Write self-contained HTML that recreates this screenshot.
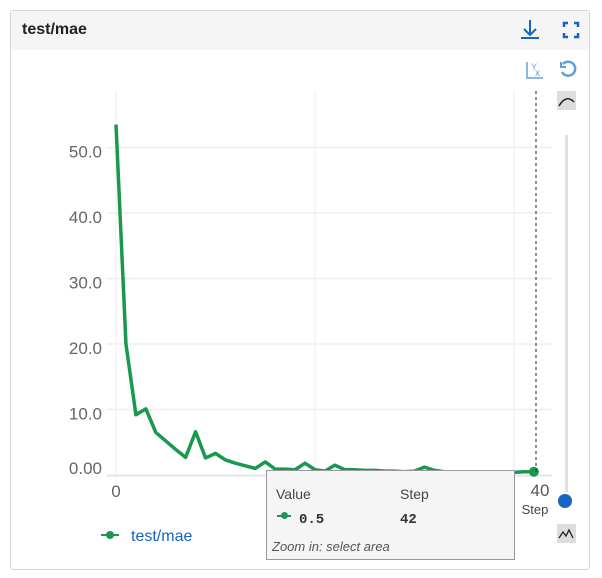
<!DOCTYPE html>
<html><head><meta charset="utf-8"><style>
body{margin:0;width:602px;height:578px;background:#fff;font-family:"Liberation Sans",sans-serif;position:relative;overflow:hidden}
.card{position:absolute;left:10px;top:10px;width:580px;height:560px;border:1px solid #d5d5d5;border-radius:3px;box-sizing:border-box}
.hdr{position:absolute;left:0;top:0;right:0;height:39px;background:#f5f5f5}
.title{position:absolute;left:11px;top:10px;font-weight:bold;font-size:16px;color:#222}
.tip{position:absolute;left:266px;top:470px;width:249px;height:90px;background:#f5f5f5;border:1px solid #999;box-sizing:border-box;font-size:14px;color:#444}
</style></head><body>
<div class="card">
<div class="hdr"><div class="title">test/mae</div></div>
</div>
<svg width="602" height="578" style="position:absolute;left:0;top:0" id="chart">
<g stroke="#1565c0" stroke-width="2" fill="none"><path d="M530 20v15M524 29l6 6 6-6M521 38h18"/></g>
<g stroke="#1565c0" stroke-width="2.5" fill="none"><path d="M564 27v-4h4M574 23h4v4M578 33v4h-4M568 37h-4v-4"/></g>
<g fill="none" stroke="#64a0d8" stroke-width="1.5"><path d="M527 62v16h16"/><text x="531" y="70" font-size="9" fill="#64a0d8" stroke="none">Y</text><text x="535" y="76" font-size="10" fill="#64a0d8" stroke="none">x</text></g>
<g fill="none" stroke="#64a0d8" stroke-width="2.5"><path d="M563 64a7 7 0 1 1 -1 8"/><path d="M561 62v5h5" stroke-width="2"/></g>
<rect x="557" y="91" width="19" height="19" fill="#ddd"/>
<path d="M559 106q7-12 15-4" stroke="#222" stroke-width="1.5" fill="none"/>
<rect x="565" y="135" width="3" height="365" fill="#e0e0e0"/>
<circle cx="565" cy="501" r="8" fill="#1565c0" stroke="#fff" stroke-width="2"/>
<rect x="557" y="524" width="19" height="19" fill="#ddd"/>
<path d="M559 538l4-6 3 4 3-6 4 8" stroke="#222" stroke-width="1.3" fill="none"/>
<g id="grid"></g><g id="plot"></g>
<line x1="536" y1="91" x2="536" y2="472" stroke="#222" stroke-dasharray="3,3"/>
<text x="540" y="496" font-size="17" fill="#555" text-anchor="middle">40</text>
<text x="535" y="514" font-size="13" fill="#444" text-anchor="middle">Step</text>
<g><line x1="101" y1="535" x2="119" y2="535" stroke="#1a9850" stroke-width="2"/><circle cx="110" cy="535" r="4" fill="#1a9850"/><text x="131" y="541" font-size="16" fill="#1565c0">test/mae</text></g>
</svg>
<div class="tip">
<div style="position:absolute;left:9px;top:15px">Value</div>
<div style="position:absolute;left:133px;top:15px">Step</div>
<div style="position:absolute;left:10px;top:44px;width:14px;height:2px;background:#1a9850"></div>
<div style="position:absolute;left:14px;top:41px;width:7px;height:7px;border-radius:50%;background:#1a9850"></div>
<div style="position:absolute;left:32px;top:41px;font-family:'Liberation Mono',monospace;font-weight:bold;color:#333">0.5</div>
<div style="position:absolute;left:133px;top:41px;font-family:'Liberation Mono',monospace;font-weight:bold;color:#333">42</div>
<div style="position:absolute;left:5px;top:68px;font-style:italic;font-size:13px;color:#555">Zoom in: select area</div>
</div>
<script>
const steps=[0,1,2,3,4,5,6,7,8,9,10,11,12,13,14,15,16,17,18,19,20,21,22,23,24,25,26,27,28,29,30,31,32,33,34,35,36,37,38,39,40,41,42];
const values=[53.5,20.0,9.2,10.1,6.5,5.2,3.9,2.7,6.6,2.6,3.3,2.3,1.8,1.4,1.0,2.0,0.9,0.9,0.8,1.8,0.8,0.6,1.5,0.8,0.8,0.7,0.7,0.6,0.6,0.5,0.6,1.2,0.7,0.5,0.5,0.5,0.5,0.4,0.4,0.4,0.4,0.5,0.5];
const yTicks=[0,10,20,30,40,50];
const yTickLabels=["0.00","10.0","20.0","30.0","40.0","50.0"];
const xTicks=[0,20,40];
const xTickLabels=["0"];
const NS="http://www.w3.org/2000/svg";
const xs=s=>116+s*9.95, ys=v=>475-v*6.55;
const grid=document.getElementById('grid'),plot=document.getElementById('plot');
function mk(t,a,p){const e=document.createElementNS(NS,t);for(const k in a)e.setAttribute(k,a[k]);p.appendChild(e);return e;}
yTicks.forEach((t,i)=>{
 const l=mk('line',{x1:107,x2:552,y1:ys(t),y2:ys(t),stroke:'#eee','stroke-width':1.5},grid);
 
 
 const ty=Math.min(ys(t)+10,474);
 const tx=mk('text',{x:102,y:ty,'font-size':17,fill:'#666','text-anchor':'end'},grid);
 tx.textContent=yTickLabels[i];
 
 
});
xTicks.forEach(t=>{
 const l=mk('line',{x1:xs(t),x2:xs(t),y1:91,y2:478,stroke:'#eee'},grid);
 
 
});
xTickLabels.forEach((s,i)=>{
 const tx=mk('text',{x:xs(xTicks[i]),y:497,'font-size':17,fill:'#666','text-anchor':'middle'},grid);
 tx.textContent=s;
 
 
});
const ax=mk('line',{x1:107,x2:552,y1:476,y2:476,stroke:'#ddd'},grid);


const pth=mk('polyline',{points:steps.map((s,i)=>xs(s)+','+ys(values[i])).join(' '),fill:'none',stroke:'#1a9850','stroke-width':3.5,'stroke-linejoin':'round'},plot);


const n=steps.length-1;
const c=mk('circle',{cx:xs(steps[n]),cy:ys(values[n]),r:5,fill:'#1a9850'},plot);


</script>
</body></html>
